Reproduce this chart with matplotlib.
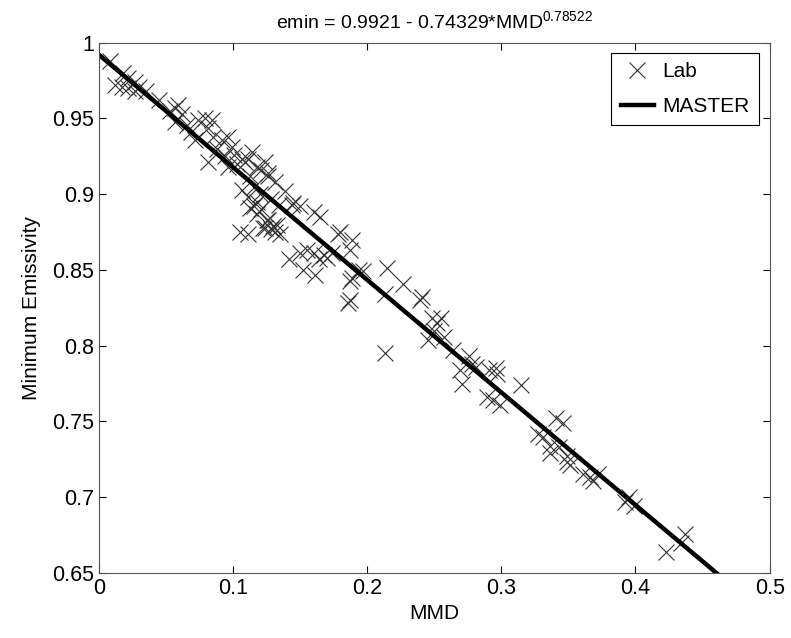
import numpy as np
import matplotlib
matplotlib.use("Agg")
import matplotlib.pyplot as plt

plt.rcParams["font.family"] = ["Liberation Sans", "DejaVu Sans"]
plt.rcParams["mathtext.fontset"] = "custom"
plt.rcParams["mathtext.rm"] = "Liberation Sans"

# ── data ──────────────────────────────────────────────────────
lab_mmd = [
    0.008, 0.018, 0.022, 0.012, 0.017, 0.022, 0.027, 0.030, 0.027, 0.035,
    0.045, 0.057, 0.059, 0.053, 0.057, 0.062, 0.066, 0.069, 0.074, 0.079,
    0.084, 0.081, 0.072, 0.085, 0.088, 0.092, 0.096, 0.099, 0.081, 0.094,
    0.096, 0.101, 0.103, 0.107, 0.109, 0.114, 0.111, 0.118, 0.124, 0.121,
    0.126, 0.131, 0.126, 0.113, 0.116, 0.120, 0.128, 0.134, 0.139, 0.144,
    0.107, 0.111, 0.116, 0.121, 0.118, 0.126, 0.133, 0.124, 0.131, 0.105,
    0.111, 0.113, 0.118, 0.125, 0.130, 0.135, 0.122, 0.128,
    0.150, 0.145, 0.165, 0.160, 0.178, 0.180, 0.189, 0.187, 0.142, 0.150,
    0.155, 0.160, 0.152, 0.161, 0.168, 0.170, 0.174, 0.164, 0.187, 0.189,
    0.197, 0.194, 0.187, 0.186, 0.215, 0.227, 0.213, 0.213, 0.239,
    0.241, 0.248, 0.252, 0.255, 0.250, 0.245, 0.257, 0.264, 0.276, 0.278,
    0.269, 0.271, 0.281, 0.289, 0.291, 0.297, 0.296, 0.294, 0.299, 0.315,
    0.346, 0.341, 0.331, 0.327, 0.336, 0.336, 0.343, 0.349, 0.349, 0.351,
    0.361, 0.366, 0.368, 0.372, 0.392, 0.395, 0.399, 0.423, 0.434, 0.437,
]
lab_emin = [
    0.988, 0.980, 0.977, 0.972, 0.971, 0.970, 0.974, 0.971, 0.968, 0.968,
    0.962, 0.957, 0.959, 0.955, 0.948, 0.953, 0.946, 0.941, 0.949, 0.950,
    0.949, 0.944, 0.936, 0.938, 0.930, 0.936, 0.938, 0.931, 0.921, 0.925,
    0.918, 0.926, 0.920, 0.923, 0.921, 0.928, 0.923, 0.918, 0.921, 0.916,
    0.912, 0.908, 0.914, 0.912, 0.905, 0.900, 0.897, 0.893, 0.902, 0.893,
    0.903, 0.898, 0.892, 0.890, 0.895, 0.883, 0.880, 0.878, 0.875, 0.875,
    0.874, 0.891, 0.887, 0.883, 0.879, 0.874, 0.878, 0.877,
    0.892, 0.894, 0.885, 0.888, 0.874, 0.875, 0.870, 0.863, 0.857, 0.861,
    0.863, 0.861, 0.850, 0.847, 0.860, 0.858, 0.861, 0.857, 0.843, 0.845,
    0.849, 0.850, 0.830, 0.828, 0.851, 0.841, 0.834, 0.795, 0.830,
    0.832, 0.818, 0.815, 0.818, 0.810, 0.804, 0.806, 0.797, 0.793, 0.788,
    0.784, 0.775, 0.786, 0.766, 0.784, 0.781, 0.785, 0.764, 0.761, 0.774,
    0.749, 0.752, 0.740, 0.742, 0.734, 0.729, 0.733, 0.727, 0.723, 0.721,
    0.715, 0.713, 0.711, 0.715, 0.697, 0.700, 0.694, 0.664, 0.670, 0.676,
]

# MASTER line end points
master_mmd = [0.0, 0.5]
master_emin = [0.9921, 0.6205]

title_text = r"emin = 0.9921 - 0.74329*MMD$^{\mathrm{0.78522}}$"

# ── figure ────────────────────────────────────────────────────
fig = plt.figure(figsize=(7.91, 6.38), dpi=100)
ax = fig.add_axes([0.125, 0.102, 0.848, 0.831])

ax.plot(lab_mmd, lab_emin, linestyle="none", marker="x", markersize=11,
        markeredgewidth=0.8, color="#333333", label="Lab")
ax.plot(master_mmd, master_emin, color="black", linewidth=3.2, label="MASTER")

ax.set_xlim(0, 0.5)
ax.set_ylim(0.65, 1)
ax.set_xticks([0, 0.1, 0.2, 0.3, 0.4, 0.5])
ax.set_xticklabels(["0", "0.1", "0.2", "0.3", "0.4", "0.5"])
ax.set_yticks([0.65, 0.7, 0.75, 0.8, 0.85, 0.9, 0.95, 1])
ax.set_yticklabels(["0.65", "0.7", "0.75", "0.8", "0.85", "0.9", "0.95", "1"])
ax.tick_params(direction="in", top=True, right=True, length=5, width=0.8,
               labelsize=15.5, colors="#000000")
for sp in ax.spines.values():
    sp.set_linewidth(0.8)
    sp.set_color("#555555")

ax.set_xlabel("MMD", fontsize=15, labelpad=4)
ax.set_ylabel("Minimum Emissivity", fontsize=15, labelpad=8)
ax.set_title(title_text, fontsize=14, pad=10)

leg = ax.legend(loc="upper right", bbox_to_anchor=(0.984, 0.981),
                borderaxespad=0, fontsize=15, fancybox=False, framealpha=1,
                edgecolor="black", handlelength=1.6, handletextpad=0.4,
                borderpad=0.45, labelspacing=0.75)
leg.get_frame().set_linewidth(0.8)

fig.savefig("out.png", dpi=100)
